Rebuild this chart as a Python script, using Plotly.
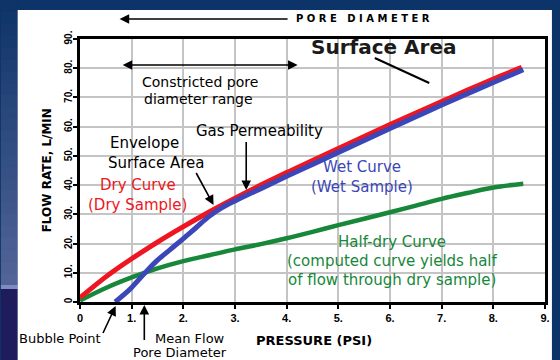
import plotly.graph_objects as go

# Dry-sample flow curve (pressure in psi, flow in L/min)
dry_psi = [0, 0.25, 0.5, 0.75, 1.0, 1.5, 2.0, 2.5, 3.0, 3.5, 4.0, 4.5,
           5.0, 5.5, 6.0, 6.5, 7.0, 7.5, 8.0, 8.55]
dry_flow = [1.5, 5.1, 8.6, 11.8, 14.8, 20.5, 25.8, 30.8, 35.5, 40.0, 44.3,
            48.4, 52.5, 56.6, 60.7, 64.7, 68.6, 72.5, 76.3, 80.3]

# Wet-sample flow curve, starting at the bubble point
wet_psi = [0.68, 0.85, 1.0, 1.25, 1.5, 1.75, 2.0, 2.25, 2.5, 2.75, 3.0,
           3.5, 4.0, 4.5, 5.0, 5.5, 6.0, 6.5, 7.0, 7.5, 8.0, 8.58]
wet_flow = [0, 2.5, 5.0, 9.8, 14.3, 18.0, 21.7, 25.5, 29.3, 32.3, 34.6,
            38.8, 43.0, 47.1, 51.2, 55.3, 59.4, 63.4, 67.4, 71.3, 75.1, 79.5]

# Half-dry curve (half of the flow through the dry sample)
half_psi = [0, 0.5, 1.0, 1.5, 2.0, 2.5, 3.0, 3.5, 4.0, 4.5, 5.0, 5.5,
            6.0, 6.5, 7.0, 7.5, 8.0, 8.58]
half_flow = [0.5, 4.8, 8.4, 11.5, 14.0, 16.0, 18.0, 19.8, 21.8, 24.0, 26.3,
             28.5, 30.7, 33.0, 35.3, 37.3, 39.2, 40.5]

x_ticks = [0, 1, 2, 3, 4, 5, 6, 7, 8, 9]
x_tick_text = ["0", "1.", "2.", "3.", "4.", "5.", "6.", "7.", "8.", "9."]
y_ticks = [0, 10, 20, 30, 40, 50, 60, 70, 80, 90]
y_tick_text = ["0", "10.", "20.", "30.", "40.", "50.", "60.", "70.", "80.", "90."]

RED = "#ee1620"
BLUE = "#3b46b9"
GREEN = "#17873a"

W, H = 560, 360
L, R, T, B = 80, 10, 39, 58
PW, PH = W - L - R, H - T - B


def px(xp):
    """Pixel column -> paper x."""
    return (xp - L) / PW


def py(yp):
    """Pixel row -> paper y."""
    return (H - B - yp) / PH


fig = go.Figure()
fig.add_trace(go.Scatter(x=half_psi, y=half_flow, mode="lines",
                         line=dict(color=GREEN, width=4.5, shape="spline"),
                         showlegend=False, hoverinfo="skip"))
fig.add_trace(go.Scatter(x=dry_psi, y=dry_flow, mode="lines",
                         line=dict(color=RED, width=5, shape="spline"),
                         showlegend=False, hoverinfo="skip"))
fig.add_trace(go.Scatter(x=wet_psi, y=wet_flow, mode="lines",
                         line=dict(color=BLUE, width=5, shape="spline"),
                         showlegend=False, hoverinfo="skip"))

shapes = []
# left edge backdrop: blue gradient bands, then a dark indigo foot
top_c = (14, 52, 104)
bot_c = (82, 100, 152)
n = 24
for i in range(n):
    y0 = 285 * i / n
    y1 = 285 * (i + 1) / n + 0.5
    t = i / (n - 1)
    c = tuple(int(round(a + (b - a) * t)) for a, b in zip(top_c, bot_c))
    shapes.append(dict(type="rect", xref="paper", yref="paper", layer="below",
                       x0=px(0), x1=px(17), y0=py(y1), y1=py(y0),
                       fillcolor="rgb(%d,%d,%d)" % c, line=dict(width=0)))
shapes.append(dict(type="rect", xref="paper", yref="paper", layer="below",
                   x0=px(0), x1=px(17), y0=py(289), y1=py(285),
                   fillcolor="#7f8cc4", line=dict(width=0)))
shapes.append(dict(type="rect", xref="paper", yref="paper", layer="below",
                   x0=px(0), x1=px(17), y0=py(360), y1=py(289),
                   fillcolor="#1f1c5c", line=dict(width=0)))
# white sheet behind the chart
shapes.append(dict(type="rect", xref="paper", yref="paper", layer="below",
                   x0=px(17), x1=px(557), y0=py(360), y1=py(10),
                   fillcolor="white", line=dict(width=0)))
# pointer line under "Surface Area"
shapes.append(dict(type="line", xref="paper", yref="paper",
                   x0=px(378), y0=py(58), x1=px(433), y1=py(83),
                   line=dict(color="black", width=2)))

BASE = "DejaVu Sans"
ann = []


def label(text, xp, yp, size=13, color="black", bold=False, angle=0, font=BASE):
    ann.append(dict(text=text, xref="paper", yref="paper", x=px(xp), y=py(yp),
                    xanchor="center", yanchor="middle",
                    showarrow=False, textangle=angle,
                    font=dict(family=font, size=size, color=color,
                              weight="bold" if bold else "normal")))


def arrow(tip_x, tip_y, tail_x, tail_y, both=False, width=1.6, head=2, size=1.2):
    a = dict(text=" ", xref="paper", yref="paper", x=px(tip_x), y=py(tip_y),
             ax=tail_x - tip_x, ay=tail_y - tip_y, showarrow=True,
             arrowhead=head, arrowsize=size, arrowwidth=width,
             arrowcolor="black", standoff=0, startstandoff=0,
             font=dict(size=2))
    if both:
        a.update(arrowside="end+start", startarrowhead=head, startarrowsize=size)
    ann.append(a)


# pore diameter direction
label("P O R E   D I A M E T E R", 366, 18, size=10, bold=True)
arrow(120, 19, 290, 19)
# constricted range
arrow(300, 65, 123, 65, both=True)
label("Constricted pore", 201, 82, size=14)
label("diameter range", 200, 99, size=14)
label("Surface Area", 387, 47, size=20, bold=True, color="#1a1a1a")
label("Gas Permeability", 261, 131, size=15)
arrow(248, 190, 248, 139)
label("Envelope", 145, 143, size=15)
label("Surface Area", 157, 163, size=15)
arrow(215, 205, 196, 170)
label("Dry Curve", 139, 185, size=15, color=RED)
label("(Dry Sample)", 138, 205, size=15, color=RED)
label("Wet Curve", 365, 167, size=15, color=BLUE)
label("(Wet Sample)", 365, 187, size=15, color=BLUE)
label("Half-dry Curve", 395, 242, size=15, color=GREEN)
label("(computed curve yields half", 396, 261, size=15, color=GREEN)
label("of flow through dry sample)", 395, 280, size=15, color=GREEN)
label("Bubble Point", 60, 338, size=13)
arrow(116, 306, 102, 336)
label("Mean Flow", 191, 338, size=13)
label("Pore Diameter", 181, 352, size=13)
arrow(145, 305, 145, 343)
label("PRESSURE (PSI)", 317, 340, size=13, bold=True)
label("FLOW RATE, L/MIN", 47, 170, size=12, bold=True, angle=-90)

axis_common = dict(showline=True, linecolor="black", linewidth=3, mirror=True,
                   showgrid=True, gridcolor="#c4c4c4", gridwidth=2,
                   zeroline=False, ticks="outside", ticklen=4, tickwidth=2,
                   tickcolor="black", fixedrange=True)

fig.update_layout(
    width=W, height=H, autosize=False,
    margin=dict(l=L, r=R, t=T, b=B, pad=0),
    paper_bgcolor="#0d3468", plot_bgcolor="white",
    shapes=shapes, annotations=ann, showlegend=False,
    xaxis=dict(range=[0, 9], tickvals=x_ticks, ticktext=x_tick_text,
               tickfont=dict(family="Liberation Sans", size=11, color="black",
                             weight="bold"), **axis_common),
    yaxis=dict(range=[0, 90], tickvals=y_ticks, ticktext=y_tick_text,
               tickangle=-90, ticklabelstandoff=-3,
               tickfont=dict(family="Liberation Sans", size=10, color="black",
                             weight="bold"), **axis_common),
)

fig.write_html("out.html")
